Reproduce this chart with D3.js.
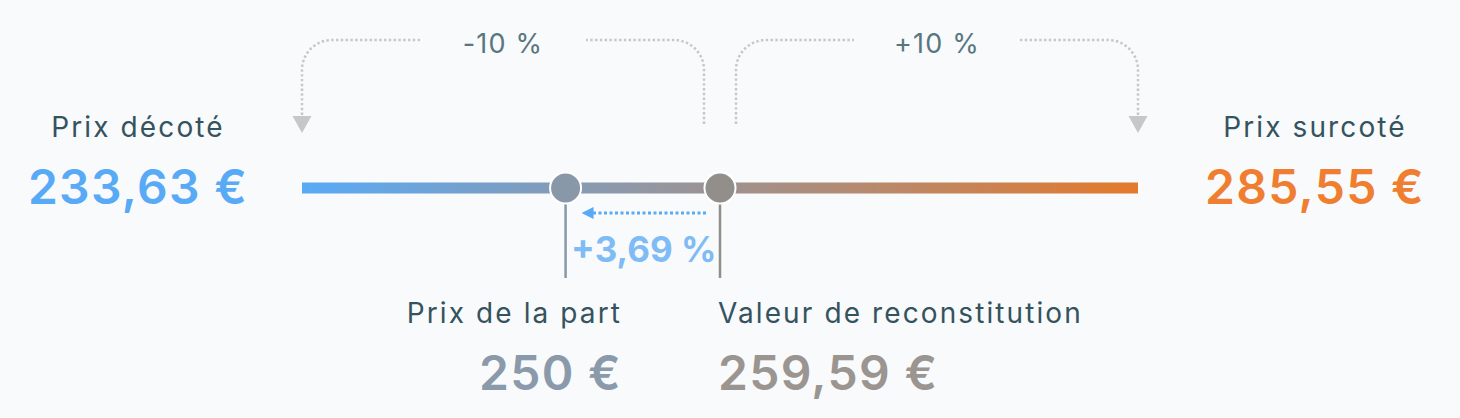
<!DOCTYPE html>
<html>
<head>
<meta charset="utf-8">
<script src="https://d3js.org/d3.v7.min.js"></script>
<style>
  body { margin: 0; background: #f9fafb; }
  svg { display: block; font-family: Inter, "Noto Sans", sans-serif; }
  .label { font-size: 28px; letter-spacing: 2.1px; }
  .value { font-size: 48px; font-weight: 600; letter-spacing: 1.3px; }
</style>
</head>
<body>
<svg width="1460" height="418"></svg>
<script>
// prices, in €
var names = ["Prix décoté", "Prix de la part", "Valeur de reconstitution", "Prix surcoté"];
var prices = [233.63, 250, 259.59, 285.55];
var spreadLabels = ["-10 %", "+10 %"];
var gapLabel = "+3,69 %";

var fr = d3.formatLocale({decimal: ",", thousands: " ", grouping: [3], currency: ["", " €"]});
var euro = function (v) { return (Number.isInteger(v) ? fr.format("d")(v) : fr.format(".2f")(v)) + " €"; };

var svg = d3.select("svg"),
    width = +svg.attr("width"),
    height = +svg.attr("height");

svg.append("rect").attr("width", width).attr("height", height).attr("fill", "#f9fafb");

var x = d3.scaleLinear()
    .domain([prices[0], prices[3]])
    .range([302, 1138]);

var barY = 188,
    x0 = x(prices[0]), x1 = x(prices[3]),
    xp = x(prices[1]), xr = x(prices[2]);

var defs = svg.append("defs");
var grad = defs.append("linearGradient")
    .attr("id", "bar-grad")
    .attr("gradientUnits", "userSpaceOnUse")
    .attr("x1", x0).attr("x2", x1).attr("y1", 0).attr("y2", 0);
grad.append("stop").attr("offset", "0%").attr("stop-color", "#58aaf6");
grad.append("stop").attr("offset", "100%").attr("stop-color", "#e37a2c");

defs.append("marker")
    .attr("id", "blue-head")
    .attr("viewBox", "0 0 10 10")
    .attr("refX", 5).attr("refY", 5)
    .attr("markerWidth", 4).attr("markerHeight", 4)
    .attr("orient", "auto-start-reverse")
    .append("path").attr("d", "M0,0L10,5L0,10Z").attr("fill", "#58aaf6");

// the bar
svg.append("line")
    .attr("x1", x0).attr("x2", x1)
    .attr("y1", barY).attr("y2", barY)
    .attr("stroke", "url(#bar-grad)")
    .attr("stroke-width", 11);

// curved dotted arrows on top
var topY = 40, rad = 30, dotted = "#c6c7c9";
function topArrow(from, to, label) {
  var dir = to < from ? -1 : 1,
      mid = (from + to) / 2,
      gap = 83;
  var p = d3.path();
  p.moveTo(from, 124);
  p.lineTo(from, topY + rad);
  p.arcTo(from, topY, from + dir * rad, topY, rad);
  p.lineTo(mid - dir * gap, topY);
  p.moveTo(mid + dir * gap, topY);
  p.lineTo(to - dir * rad, topY);
  p.arcTo(to, topY, to, topY + rad, rad);
  p.lineTo(to, 116);
  svg.append("path")
      .attr("d", p.toString())
      .attr("fill", "none")
      .attr("stroke", dotted)
      .attr("stroke-width", 2.5)
      .attr("stroke-dasharray", "2.4 2.4");
  svg.append("path")
      .attr("d", "M" + (to - 9.5) + ",116L" + (to + 9.5) + ",116L" + to + ",133Z")
      .attr("fill", dotted);
  svg.append("text")
      .attr("x", mid).attr("y", 53)
      .attr("text-anchor", "middle")
      .attr("fill", "#587680")
      .style("font-size", "27px")
      .style("letter-spacing", "1.2px")
      .text(label);
}
topArrow(xr - 16, x0, spreadLabels[0]);
topArrow(xr + 16, x1, spreadLabels[1]);

// side labels
var labelColor = "#34535e";
var sides = [
  {i: 0, cx: x0 - 164, color: "#58aaf6"},
  {i: 3, cx: x1 + 177, color: "#f07e30"}
];
sides.forEach(function (s) {
  svg.append("text")
      .attr("class", "label")
      .attr("x", s.cx).attr("y", 137)
      .attr("text-anchor", "middle")
      .attr("fill", labelColor)
      .text(names[s.i]);
  svg.append("text")
      .attr("class", "value")
      .attr("x", s.cx).attr("y", 204)
      .attr("text-anchor", "middle")
      .attr("fill", s.color)
      .text(euro(prices[s.i]));
});

// the two markers
var marks = [
  {i: 1, color: "#8898a9", txt: "#8a9aab", anchor: "end", tx: xr - 98},
  {i: 2, color: "#928e8a", txt: "#9a9591", anchor: "start", tx: xr - 2}
];
marks.forEach(function (m) {
  var cx = x(prices[m.i]);
  svg.append("line")
      .attr("x1", cx).attr("x2", cx)
      .attr("y1", barY + 16).attr("y2", 278)
      .attr("stroke", m.color)
      .attr("stroke-width", 2.5);
  svg.append("circle")
      .attr("cx", cx).attr("cy", barY)
      .attr("r", 15.5)
      .attr("fill", m.color)
      .attr("stroke", "#ffffff")
      .attr("stroke-width", 2);
  svg.append("text")
      .attr("class", "label")
      .attr("x", m.tx).attr("y", 323)
      .attr("text-anchor", m.anchor)
      .attr("fill", labelColor)
      .text(names[m.i]);
  svg.append("text")
      .attr("class", "value")
      .attr("x", m.tx).attr("y", 390)
      .attr("text-anchor", m.anchor)
      .attr("fill", m.txt)
      .text(euro(prices[m.i]));
});

// gap arrow between price and reconstitution value
svg.append("line")
    .attr("x1", xr - 14).attr("x2", xp + 22)
    .attr("y1", 213).attr("y2", 213)
    .attr("stroke", "#58aaf6")
    .attr("stroke-width", 3)
    .attr("stroke-dasharray", "3 2.5")
    .attr("marker-end", "url(#blue-head)");

svg.append("text")
    .attr("x", (xp + xr) / 2 + 1).attr("y", 262)
    .attr("text-anchor", "middle")
    .attr("fill", "#7fbcf6")
    .style("font-size", "35px")
    .style("font-weight", 700)
    .text(gapLabel);
</script>
</body>
</html>
